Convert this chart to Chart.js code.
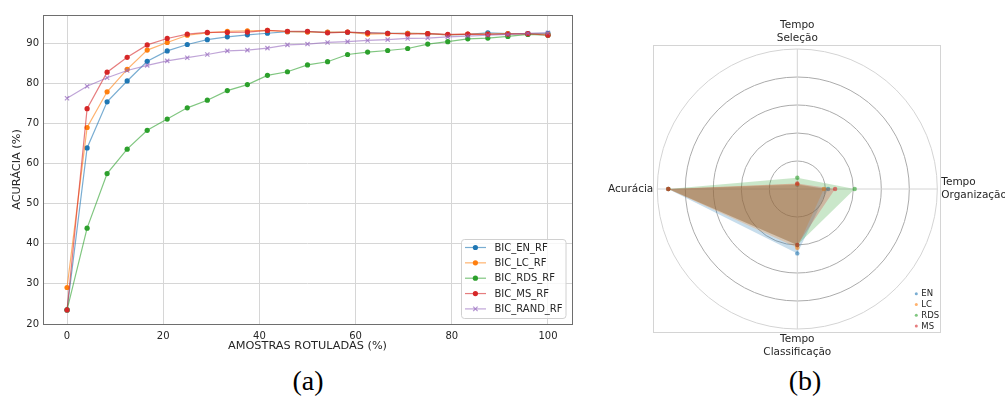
<!DOCTYPE html>
<html>
<head>
<meta charset="utf-8">
<script src="https://cdn.jsdelivr.net/npm/chart.js@4.4.0/dist/chart.umd.min.js"></script>
<style>
  html, body { margin: 0; padding: 0; background: #fff; }
  body { width: 1005px; height: 398px; position: relative; overflow: hidden; }
  #lineChart { position: absolute; left: 0; top: 0; }
  #radarChart { position: absolute; left: 590px; top: 0; }
  .cap { position: absolute; top: 367px; font-family: 'Liberation Serif', 'DejaVu Serif', serif;
         font-size: 28px; line-height: 28px; color: #000; transform: translateX(-50%); }
</style>
</head>
<body>
<canvas id="lineChart" width="590" height="365"></canvas>
<canvas id="radarChart" width="415" height="365"></canvas>
<div class="cap" style="left:308px">(a)</div>
<div class="cap" style="left:805px">(b)</div>
<script>
// (a) acurácia x amostras rotuladas
var amostras = [0, 4.17, 8.33, 12.5, 16.67, 20.83, 25, 29.17, 33.33, 37.5, 41.67, 45.83, 50,
                54.17, 58.33, 62.5, 66.67, 70.83, 75, 79.17, 83.33, 87.5, 91.67, 95.83, 100];
var bicEN   = [23.5, 63.9, 75.4, 80.6, 85.5, 88.1, 89.7, 90.9, 91.6, 92.1, 92.5, 92.9, 92.9,
               92.7, 92.7, 92.6, 92.5, 92.5, 92.4, 92.1, 92.2, 92.6, 92.4, 92.4, 92.5];
var bicLC   = [29.1, 69.0, 77.9, 83.5, 88.3, 90.2, 92.0, 92.6, 93.0, 93.1, 93.2, 92.9, 92.8,
               92.8, 92.8, 92.3, 92.4, 92.5, 92.4, 92.1, 92.3, 92.3, 92.4, 92.4, 92.2];
var bicRDS  = [23.5, 43.9, 57.5, 63.6, 68.3, 71.1, 73.9, 75.8, 78.2, 79.7, 82.0, 82.9, 84.6,
               85.4, 87.2, 87.8, 88.2, 88.7, 89.8, 90.4, 91.1, 91.3, 91.7, 92.2, 92.0];
var bicMS   = [23.5, 73.7, 82.8, 86.5, 89.6, 91.2, 92.3, 92.7, 92.7, 92.8, 93.2, 93.0, 93.0,
               92.6, 92.8, 92.6, 92.5, 92.3, 92.4, 92.2, 92.3, 92.2, 92.3, 92.4, 92.0];
var bicRAND = [76.3, 79.3, 81.4, 83.2, 84.5, 85.6, 86.4, 87.2, 88.1, 88.3, 88.8, 89.6, 89.8,
               90.2, 90.4, 90.7, 90.9, 91.2, 91.3, 91.6, 91.8, 92.0, 92.2, 92.5, 92.6];
var xTicks = [0, 20, 40, 60, 80, 100];
var yTicks = [20, 30, 40, 50, 60, 70, 80, 90];

// (b) radar
var eixos = [['Tempo', 'Seleção'], ['Tempo', 'Organização'], ['Tempo', 'Classificação'], 'Acurácia'];
var radarEN  = [0.03, 0.22, 0.46, 0.923];
var radarLC  = [0.035, 0.19, 0.42, 0.922];
var radarRDS = [0.08, 0.41, 0.40, 0.92];
var radarMS  = [0.04, 0.27, 0.40, 0.921];
var radarNomes = ['EN', 'LC', 'RDS', 'MS'];

Chart.defaults.font.family = '"DejaVu Sans", sans-serif';
Chart.defaults.color = '#262626';

function pts(ys) {
    return ys.map(function (y, i) { return { x: amostras[i], y: y }; });
}

function serie(label, cor, rgb, ys, estilo) {
    return {
        label: label,
        data: pts(ys),
        borderColor: 'rgba(' + rgb + ',0.6)',
        borderWidth: 1.2,
        pointStyle: estilo || 'circle',
        pointRadius: estilo ? 3 : 2.6,
        pointBackgroundColor: cor,
        pointBorderColor: estilo ? 'rgba(' + rgb + ',0.7)' : cor,
        pointBorderWidth: estilo ? 1.2 : 0,
        tension: 0
    };
}

// caixa de bordas + legenda no canto inferior direito
var moldura = {
    id: 'moldura',
    afterDraw: function (chart) {
        var ctx = chart.ctx, a = chart.chartArea;
        ctx.save();
        ctx.strokeStyle = '#6e6e6e';
        ctx.lineWidth = 1;
        ctx.strokeRect(a.left + 0.5, a.top + 0.5, a.right - a.left, a.bottom - a.top);

        var x0 = 461.5, y0 = 239.5;
        ctx.fillStyle = 'rgba(255,255,255,0.8)';
        ctx.strokeStyle = '#d0d0d0';
        ctx.beginPath();
        ctx.roundRect(x0, y0, 104.5, 79, 3);
        ctx.fill();
        ctx.stroke();
        chart.data.datasets.forEach(function (ds, i) {
            var y = 247.5 + i * 15.35;
            ctx.strokeStyle = ds.borderColor;
            ctx.lineWidth = ds.borderWidth;
            ctx.beginPath();
            ctx.moveTo(465, y);
            ctx.lineTo(486, y);
            ctx.stroke();
            if (ds.pointStyle === 'crossRot') {
                ctx.strokeStyle = ds.pointBorderColor;
                ctx.lineWidth = ds.pointBorderWidth;
                ctx.beginPath();
                ctx.moveTo(473.2, y - 2.2); ctx.lineTo(477.6, y + 2.2);
                ctx.moveTo(477.6, y - 2.2); ctx.lineTo(473.2, y + 2.2);
                ctx.stroke();
            } else {
                ctx.fillStyle = ds.pointBackgroundColor;
                ctx.beginPath();
                ctx.arc(475.4, y, 2.6, 0, Math.PI * 2);
                ctx.fill();
            }
            ctx.fillStyle = '#262626';
            ctx.font = '10px "DejaVu Sans"';
            ctx.textBaseline = 'middle';
            ctx.textAlign = 'left';
            ctx.fillText(ds.label, 494.5, y + 0.5);
        });
        ctx.restore();
    }
};

new Chart(document.getElementById('lineChart'), {
    type: 'line',
    data: {
        datasets: [
            serie('BIC_EN_RF', '#1f77b4', '31,119,180', bicEN),
            serie('BIC_LC_RF', '#ff7f0e', '255,127,14', bicLC),
            serie('BIC_RDS_RF', '#2ca02c', '44,160,44', bicRDS),
            serie('BIC_MS_RF', '#d62728', '214,39,40', bicMS),
            serie('BIC_RAND_RF', '#9467bd', '148,103,189', bicRAND, 'crossRot')
        ].map(function (d, i, arr) { d.order = arr.length - i; return d; })
    },
    options: {
        responsive: false,
        animation: false,
        layout: { padding: { left: 0, right: 18, top: 15, bottom: 0 } },
        plugins: { legend: { display: false }, tooltip: { enabled: false } },
        scales: {
            x: {
                type: 'linear',
                min: -5,
                max: 105,
                afterBuildTicks: function (axis) {
                    axis.ticks = xTicks.map(function (v) { return { value: v }; });
                },
                afterFit: function (axis) { axis.height = 41; },
                grid: { color: '#d6d6d6', drawTicks: false },
                border: { display: false },
                ticks: { font: { size: 10 }, padding: 6, maxRotation: 0 },
                title: {
                    display: true,
                    text: 'AMOSTRAS ROTULADAS (%)',
                    font: { size: 11.3 },
                    padding: { top: 0, bottom: 12.4 }
                }
            },
            y: {
                min: 20,
                max: 97.05,
                afterBuildTicks: function (axis) {
                    axis.ticks = yTicks.map(function (v) { return { value: v }; });
                },
                afterFit: function (axis) { axis.width = 43; },
                grid: { color: '#d6d6d6', drawTicks: false },
                border: { display: false },
                ticks: { font: { size: 10 }, padding: 4 },
                title: {
                    display: true,
                    text: 'ACURÁCIA (%)',
                    font: { size: 11.3 },
                    padding: { top: 10.2, bottom: 0 }
                }
            }
        }
    },
    plugins: [moldura]
});

// radar: centro e raio fixos para alinhar com a figura
var RX = 207.3, RY = 189, RR = 140;

var radarExtra = {
    id: 'radarExtra',
    beforeDraw: function (chart) {
        var ctx = chart.ctx;
        ctx.save();
        ctx.strokeStyle = '#d4d4d4';
        ctx.lineWidth = 1;
        ctx.strokeRect(63.5, 45.5, 287, 287);
        ctx.restore();
    },
    afterDraw: function (chart) {
        var ctx = chart.ctx;
        ctx.save();
        ctx.font = '8.5px "DejaVu Sans"';
        ctx.textBaseline = 'middle';
        ctx.textAlign = 'left';
        chart.data.datasets.forEach(function (ds, i) {
            var y = 293.7 + i * 10.8;
            ctx.fillStyle = ds.pointBackgroundColor;
            ctx.beginPath();
            ctx.arc(326.3, y, 1.5, 0, Math.PI * 2);
            ctx.fill();
            ctx.fillStyle = '#262626';
            ctx.fillText(ds.label, 331.3, y + 0.5);
        });
        ctx.restore();
    }
};

function radarSerie(label, rgb, vals) {
    return {
        label: label,
        data: vals,
        backgroundColor: 'rgba(' + rgb + ',0.25)',
        borderWidth: 0,
        fill: true,
        pointRadius: 2.2,
        pointBackgroundColor: 'rgba(' + rgb + ',0.6)',
        pointBorderWidth: 0
    };
}

new Chart(document.getElementById('radarChart'), {
    type: 'radar',
    data: {
        labels: eixos,
        datasets: [
            radarSerie(radarNomes[0], '31,119,180', radarEN),
            radarSerie(radarNomes[1], '255,127,14', radarLC),
            radarSerie(radarNomes[2], '44,160,44', radarRDS),
            radarSerie(radarNomes[3], '214,39,40', radarMS)
        ].map(function (d, i, arr) { d.order = arr.length - i; return d; })
    },
    options: {
        responsive: false,
        animation: false,
        plugins: { legend: { display: false }, tooltip: { enabled: false } },
        elements: { line: { tension: 0 } },
        scales: {
            r: {
                min: 0,
                max: 1,
                beforeFit: function (scale) {
                    scale.setCenterPoint = function () {
                        this.xCenter = RX;
                        this.yCenter = RY;
                        this.drawingArea = RR;
                    };
                },
                ticks: { stepSize: 0.2, display: false },
                grid: {
                    circular: true,
                    color: function (c) { return c.index === 5 ? '#d4d4d4' : '#ababab'; },
                    lineWidth: 1
                },
                angleLines: { color: '#d4d4d4', lineWidth: 1 },
                pointLabels: {
                    font: { size: 10.5, lineHeight: 1.24 },
                    color: '#262626',
                    padding: 4
                }
            }
        }
    },
    plugins: [radarExtra]
});
</script>
</body>
</html>
